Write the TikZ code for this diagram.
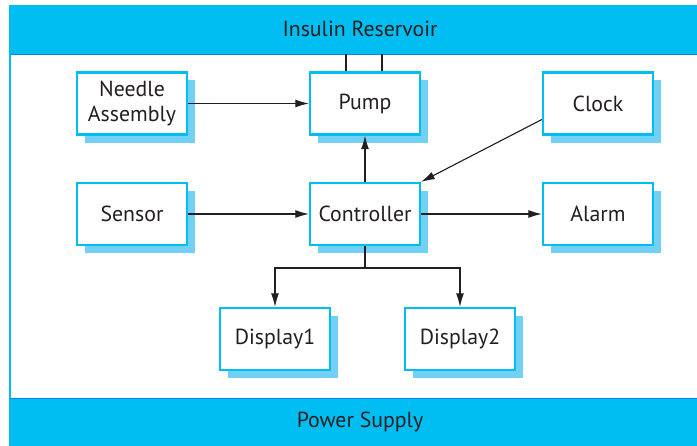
\documentclass[tikz,border=0pt]{standalone}
\usepackage{fontspec}
\setmainfont{PT Sans}
\usetikzlibrary{positioning, arrows.meta, shadows}
\definecolor{barblue}{HTML}{00BDF2}
\definecolor{shadeblue}{HTML}{72D0F5}
\definecolor{inkgray}{HTML}{231F20}

\begin{document}
\begin{tikzpicture}[x=0.025cm, y=-0.025cm,
    unit/.style={draw=barblue, line width=1.6pt, fill=white, text=inkgray,
      minimum width=2.75cm, minimum height=1.55cm, inner sep=0pt, align=center,
      font=\fontsize{15.5}{17}\selectfont,
      drop shadow={shadow xshift=0.2cm, shadow yshift=-0.2cm, fill=shadeblue, opacity=1}},
    link/.style={draw=inkgray, line width=0.8pt},
    flow/.style={link, -{Latex[length=3.4mm, width=2mm]}}]
    \useasboundingbox (0,0) rectangle (697,446);
    % Rahmen und Balken
    \fill[white] (10,6) rectangle (697,446);
    \fill[barblue] (10,6) rectangle (697,54);
    \fill[barblue] (10,398) rectangle (697,446);
    \draw[barblue, line width=1pt] (697,6) -- (10,6) -- (10,446) -- (697,446);
    \draw[barblue!70!blue, line width=0.6pt] (10,54) -- (697,54) (10,398) -- (697,398);
    \node[text=inkgray, font=\fontsize{15.5}{17}\selectfont] (reservoir) at (360,29) {Insulin Reservoir};
    \node[text=inkgray, font=\fontsize{15.5}{17}\selectfont] (power) at (360,422) {Power Supply};
    % Komponenten
    \node[unit] (needle) at (132,103.5) {Needle\\[1pt]Assembly};
    \node[unit] (pump) at (365,103.5) {Pump};
    \node[unit] (clock) at (598,103.5) {Clock};
    \node[unit] (sensor) at (132,214) {Sensor};
    \node[unit] (controller) at (365,214) {Controller};
    \node[unit] (alarm) at (598,214) {Alarm};
    \node[unit] (display1) at (275,339) {Display1};
    \node[unit] (display2) at (460,339) {Display2};
    % Leitungen zum Reservoir
    \coordinate (tapA) at (346,54);
    \coordinate (tapB) at (382,54);
    \draw[link] (tapA) -- (tapA |- pump.north);
    \draw[link] (tapB) -- (tapB |- pump.north);
    % Pfeile
    \draw[flow] (needle) -- (pump);
    \draw[flow] (sensor) -- (controller);
    \draw[flow] (controller) -- (alarm);
    \draw[flow] (controller) -- (pump);
    \draw[flow] ([yshift=-0.4cm]clock.west) -- (controller.north east);
    \coordinate (split) at (365,268);
    \draw[link] (controller.south) -- (split);
    \draw[flow] (split) -| (display1.north);
    \draw[flow] (split) -| (display2.north);
\end{tikzpicture}
\end{document}
